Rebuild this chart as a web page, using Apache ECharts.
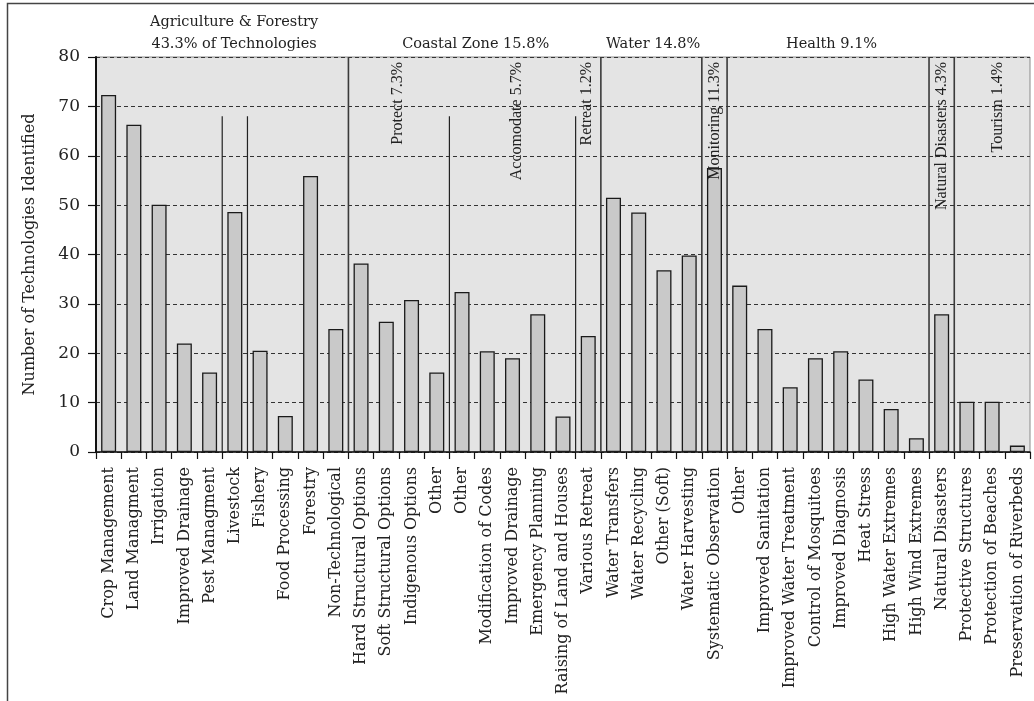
<!DOCTYPE html>
<html>
<head>
<meta charset="utf-8">
<script src="https://cdn.jsdelivr.net/npm/echarts@6/dist/echarts.min.js"></script>
<style>
html,body{margin:0;padding:0;background:#fff;}
#chart{width:1034px;height:701px;}
</style>
</head>
<body>
<div id="chart"></div>
<script>
const categories = [
  'Crop Management','Land Managment','Irrigation','Improved Drainage','Pest Managment',
  'Livestock','Fishery','Food Processing','Forestry','Non-Technological',
  'Hard Structural Options','Soft Structural Options','Indigenous Options','Other',
  'Other','Modification of Codes','Improved Drainage','Emergency Planning','Raising of Land and Houses',
  'Various Retreat',
  'Water Transfers','Water Recycling','Other (Soft)','Water Harvesting',
  'Systematic Observation',
  'Other','Improved Sanitation','Improved Water Treatment','Control of Mosquitoes','Improved Diagnosis',
  'Heat Stress','High Water Extremes','High Wind Extremes',
  'Natural Disasters',
  'Protective Structures','Protection of Beaches','Preservation of Riverbeds'
];
const values = [
  72.3, 66.3, 50.1, 22.0, 16.1, 48.6, 20.5, 7.3, 55.9, 24.9,
  38.2, 26.4, 30.8, 16.1,
  32.4, 20.4, 19.0, 27.9, 7.2,
  23.5,
  51.5, 48.5, 36.8, 39.8,
  57.5,
  33.7, 24.9, 13.1, 19.0, 20.4, 14.7, 8.7, 2.8,
  27.9,
  10.2, 10.2, 1.3
];
// sector headings above the plot: [text, position in category units]
const sectorLabels = [
  ['Agriculture & Forestry\n43.3% of Technologies', 5.47],
  ['Coastal Zone 15.8%', 15.04],
  ['Water 14.8%', 22.07],
  ['Health 9.1%', 29.14]
];
// rotated sub-group labels inside the plot
const subLabels = [
  ['Protect 7.3%', 11.96],
  ['Accomodate 5.7%', 16.66],
  ['Retreat 1.2%', 19.45],
  ['Monitoring 11.3%', 24.52],
  ['Natural Disasters 4.3%', 33.5],
  ['Tourism 1.4%', 35.74]
];
// group dividers at category boundaries: [boundary index, top value]
const majorDividers = [[10, 80], [20, 80], [24, 80], [25, 80], [33, 80], [34, 80]];
const minorDividers = [[5, 68], [6, 68], [14, 68], [19, 68]];

const SERIF = '"DejaVu Serif", serif';
const TIMES = '"Liberation Serif", serif';
const N = categories.length;

const chart = echarts.init(document.getElementById('chart'));

function dividerSeries(list, color, width) {
  return {
    type: 'custom', xAxisIndex: 1, yAxisIndex: 0, silent: true, z: 5,
    data: list,
    renderItem: function (params, api) {
      const p0 = api.coord([api.value(0), 0]);
      const p1 = api.coord([api.value(0), api.value(1)]);
      return { type: 'line', shape: { x1: p0[0], y1: p0[1], x2: p1[0], y2: p1[1] },
        style: { stroke: color, lineWidth: width } };
    }
  };
}

chart.setOption({
  animation: false,
  backgroundColor: '#ffffff',
  graphic: [{
    type: 'rect', silent: true, z: -10,
    shape: { x: 7.5, y: 3.5, width: 1200, height: 900 },
    style: { fill: 'none', stroke: '#444', lineWidth: 1.5 }
  }],
  grid: {
    left: 96, right: 4, top: 57, bottom: 249,
    show: true, backgroundColor: '#e4e4e4', borderColor: '#8a8a8a', borderWidth: 1
  },
  xAxis: [{
    type: 'category', data: categories, boundaryGap: true,
    axisLine: { lineStyle: { color: '#111', width: 1.5 } },
    axisTick: { show: true, length: 7, lineStyle: { color: '#111', width: 1.2 } },
    axisLabel: { interval: 0, rotate: 90, margin: 15, color: '#222', fontFamily: SERIF, fontSize: 16 },
    splitLine: { show: false }
  }, {
    type: 'value', min: 0, max: N, show: false
  }],
  yAxis: {
    type: 'value', min: 0, max: 80, interval: 10,
    name: 'Number of Technologies Identified', nameLocation: 'middle', nameGap: 58,
    nameTextStyle: { fontFamily: SERIF, fontSize: 16, color: '#222' },
    axisLine: { show: true, lineStyle: { color: '#111', width: 2 } },
    axisTick: { show: true, length: 8, lineStyle: { color: '#111', width: 1.2 } },
    axisLabel: { margin: 16, color: '#222', fontFamily: SERIF, fontSize: 17 },
    splitLine: { show: true, lineStyle: { color: '#333', width: 1, type: [4, 3] } }
  },
  series: [
    {
      type: 'bar', data: values, barWidth: 15, z: 3,
      itemStyle: { color: '#c9c9c9', borderColor: '#1a1a1a', borderWidth: 1.3 }
    },
    dividerSeries(majorDividers, '#3a3a3a', 1.6),
    dividerSeries(minorDividers, '#222', 1.2),
    {
      type: 'custom', xAxisIndex: 1, yAxisIndex: 0, silent: true, z: 6,
      data: sectorLabels.map(d => [d[1], 80]),
      renderItem: function (params, api) {
        const p = api.coord([api.value(0), api.value(1)]);
        return { type: 'text', x: p[0], y: p[1] - 1.5,
          style: { text: sectorLabels[params.dataIndex][0], fill: '#222', font: '14.5px ' + SERIF,
            align: 'center', verticalAlign: 'bottom', lineHeight: 22 } };
      }
    },
    {
      type: 'custom', xAxisIndex: 1, yAxisIndex: 0, silent: true, z: 6,
      data: subLabels.map(d => [d[1], 80]),
      renderItem: function (params, api) {
        const p = api.coord([api.value(0), api.value(1)]);
        return { type: 'text', x: p[0], y: p[1] + 5, rotation: Math.PI / 2,
          style: { text: subLabels[params.dataIndex][0], fill: '#222', font: '16px ' + TIMES,
            align: 'right', verticalAlign: 'middle' } };
      }
    }
  ]
});
</script>
</body>
</html>
